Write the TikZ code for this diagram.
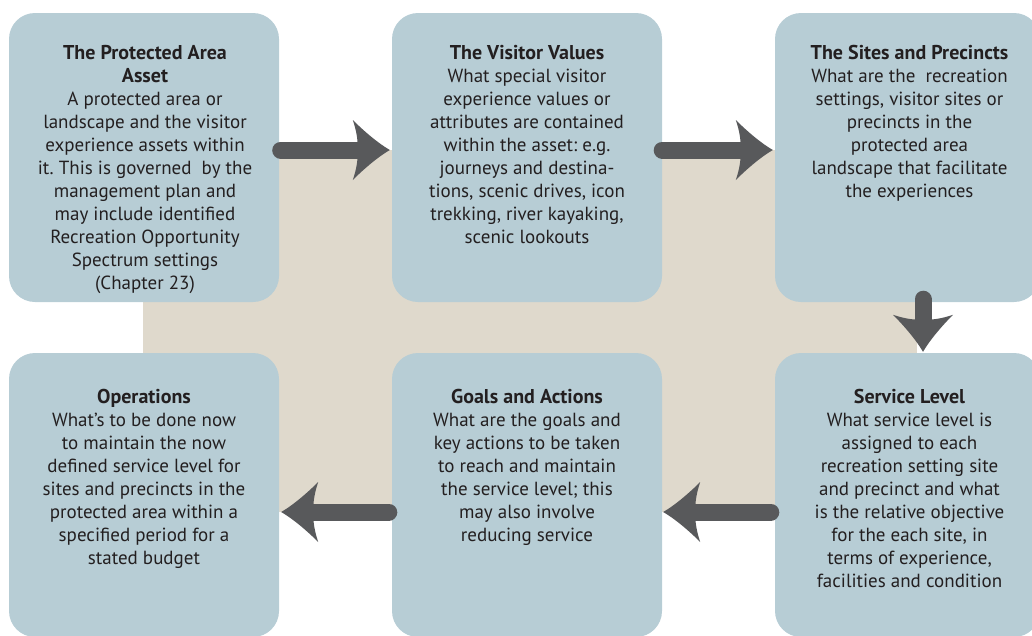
\documentclass[tikz,border=0pt]{standalone}
\usepackage{fontspec}
\setmainfont{PT Sans}
\usetikzlibrary{calc}
\frenchspacing
\definecolor{boxcol}{HTML}{B7CDD5}
\definecolor{beige}{HTML}{DFD9CC}
\definecolor{arrowgrey}{HTML}{58595B}
\definecolor{txt}{HTML}{231F20}
\tikzset{
  box/.style={fill=boxcol, draw=none, rounded corners=26pt, minimum width=270pt, inner sep=0pt},
  boxtext/.style={anchor=north, align=center, inner sep=0pt, text=txt, font=\fontsize{19}{23}\selectfont},
  shaft/.style={draw=arrowgrey, line width=17pt, line cap=round},
  head/.pic={\fill[arrowgrey] (0,0) .. controls (-12,-7) and (-26,-19) .. (-37,-30)
      .. controls (-33,-18) and (-32,-10) .. (-32,0)
      .. controls (-32,10) and (-33,18) .. (-37,30)
      .. controls (-26,19) and (-12,7) .. (0,0) -- cycle;}
}
\newcommand{\fl}{\rule{0pt}{14.5pt}}
\newcommand{\ttl}[1]{{\fontsize{20}{23}\selectfont\bfseries #1}}
\begin{document}
\begin{tikzpicture}[x=1pt,y=-1pt]
\useasboundingbox (0,0) rectangle (1032,635);
\clip (0,0) rectangle (1032,635);
\fill[beige] (143,150) rectangle (917,512) coordinate (bgcorner);
% boxes
\node[box, minimum height=289pt] (b1) at (144,157.5) {};
\node[box, minimum height=289pt] (b2) at (527,157.5) {};
\node[box, minimum height=289pt, minimum width=265pt] (b3) at (907.5,157.5) {};
\node[box, minimum height=284pt] (b4) at (144,495) {};
\node[box, minimum height=284pt] (b5) at (527,495) {};
\node[box, minimum height=284pt, minimum width=265pt] (b6) at (907.5,495) {};
% texts
\node[boxtext] (t1) at ($(b1.north)+(1,31.5)$) {\fl\ttl{The Protected Area}\\\ttl{Asset}\\
A protected area or\\landscape and the visitor\\experience assets within\\it. This is governed\ \ by the\\management plan and\\may include identified\\Recreation Opportunity\\Spectrum settings\\(Chapter 23)};
\node[boxtext] (t2) at ($(b2.north)+(0,31.5)$) {\fl\ttl{The Visitor Values}\\
What special visitor\\experience values or\\attributes are contained\\within the asset: e.g.\\journeys and destina-\\tions, scenic drives, icon\\trekking, river kayaking,\\scenic lookouts};
\node[boxtext] (t3) at ($(b3.north)+(2,31.5)$) {\fl\ttl{The Sites and Precincts}\\
What are the\ \ recreation\\settings, visitor sites or\\precincts in the\\protected area\\landscape that facilitate\\the experiences};
\node[boxtext] (t4) at ($(b4.north)+(0,35.5)$) {\fl\ttl{Operations}\\
What’s to be done now\\to maintain the now\\defined service level for\\sites and precincts in the\\protected area within a\\specified period for a\\stated budget};
\node[boxtext] (t5) at ($(b5.north)+(0,35.5)$) {\fl\ttl{Goals and Actions}\\
What are the goals and\\key actions to be taken\\to reach and maintain\\the service level; this\\may also involve\\reducing service};
\node[boxtext] (t6) at ($(b6.north)+(2,35.5)$) {\fl\ttl{Service Level}\\
What service level is\\assigned to each\\recreation setting site\\and precinct and what\\is the relative objective\\for the each site, in\\terms of experience,\\facilities and condition};
% arrows
\coordinate (r1) at (0,150);
\coordinate (r2) at (0,512);
\coordinate (c1) at (923,0);
\draw[shaft] ($(b1.east|-r1)+(1.5,0)$) -- ($(b2.west|-r1)+(-30,0)$);
\pic at ($(b2.west|-r1)+(-2,0)$) {head};
\draw[shaft] ($(b2.east|-r1)+(0,0)$) -- ($(b3.west|-r1)+(-30,0)$);
\pic at ($(b3.west|-r1)+(-2,0)$) {head};
\draw[shaft] ($(b3.south-|c1)+(0,-3)$) -- ($(b6.north-|c1)+(0,-30)$);
\pic[rotate=-90] at ($(b6.north-|c1)+(0,-1)$) {head};
\draw[shaft] ($(b6.west|-r2)+(-4,0)$) -- ($(b5.east|-r2)+(30,0)$);
\pic[rotate=180] at ($(b5.east|-r2)+(1,0)$) {head};
\draw[shaft] ($(b5.west|-r2)+(-3,0)$) -- ($(b4.east|-r2)+(30,0)$);
\pic[rotate=180] at ($(b4.east|-r2)+(2,0)$) {head};
\end{tikzpicture}
\end{document}
